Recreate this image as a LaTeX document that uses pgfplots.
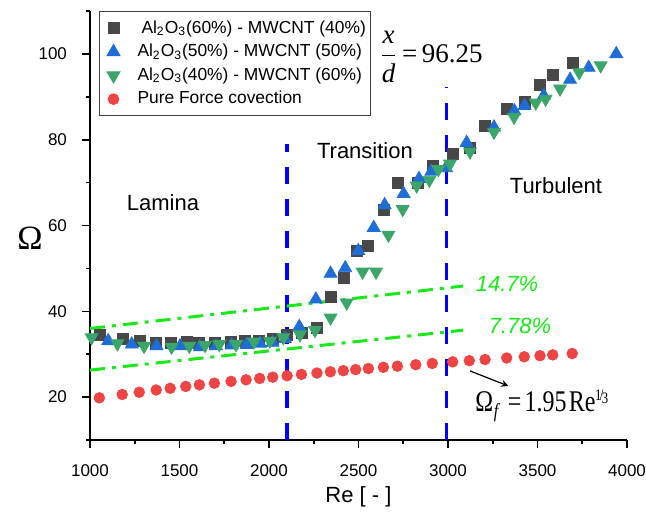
\documentclass[border=0pt]{standalone}
\usepackage{fontspec}
\setmainfont{Liberation Sans}
\newfontfamily\serif{Liberation Serif}
\usepackage{pgfplots}
\pgfplotsset{compat=1.18}
\definecolor{sqc}{RGB}{72,72,72}
\definecolor{upc}{RGB}{31,110,216}
\definecolor{dnc}{RGB}{58,166,106}
\definecolor{rdc}{RGB}{238,68,68}
\definecolor{lgc}{RGB}{25,232,25}
\pgfplotsset{lgm/.style={legend image code/.code={\path[draw=none,fill=none] (-6.5pt,-1pt) rectangle (10pt,1pt); \draw[only marks] plot coordinates {(0pt,0pt)};}}}
\begin{document}
\begin{tikzpicture}
\begin{axis}[
  scale only axis, width=268.5pt, height=214.5pt,
  xmin=1000, xmax=4000, ymin=10, ymax=110,
  axis x line=bottom, axis y line=left,
  axis line style={-, line width=0.8pt},
  xtick={1000,1500,...,4000}, minor xtick={1250,1750,...,3750},
  ytick={20,40,...,100}, minor ytick={10,30,...,110},
  tick align=outside,
  major tick length=4pt, minor tick length=2pt,
  every tick/.style={line width=0.8pt, black},
  /pgf/number format/assume math mode=true,
  /pgf/number format/set thousands separator={},
  ticklabel style={font=\fontsize{8.5}{10}\selectfont},
  xticklabel style={yshift=-5pt},
  yticklabel style={xshift=-4pt},
  xlabel={Re [ - ]},
  xlabel style={font=\fontsize{11}{13}\selectfont, at={(axis description cs:0.5,0)}, anchor=center, yshift=-28.5pt},
  clip=false,
  legend style={at={(axis description cs:0.0168,1)}, anchor=north west, draw=black!75, line width=0.5pt,
    font=\fontsize{8.7}{10}\selectfont, inner xsep=0.5pt, inner ysep=2.5pt, row sep=0pt},
  legend cell align=left,
]
\addplot[only marks, mark=square*, mark size=2.75pt, color=sqc, lgm] table {
1056 34.4
1182 33.6
1279 33.1
1369 32.7
1452 32.7
1540 32.9
1611 32.7
1698 32.7
1786 32.9
1868 33.1
1946 33.1
2020 33.6
2099 34.4
2184 35.0
2266 36.2
2344 43.4
2419 47.9
2490 54.1
2553 55.3
2642 63.7
2720 70.0
2830 70.0
2914 73.9
3026 76.7
3123 78.0
3207 83.3
3328 87.1
3430 88.8
3514 92.8
3587 95.0
3696 97.9
};
\addlegendentry{\hspace{2pt}Al\textsubscript{2}O\textsubscript{3}(60\%) - MWCNT (40\%)}
\addplot[only marks, mark=triangle*, mark size=3.7pt, color=upc, lgm] table {
1102 33.1
1233 32.3
1372 31.9
1503 31.9
1614 31.7
1704 31.9
1791 32.1
1875 32.2
1950 32.5
2020 32.7
2089 33.6
2169 36.4
2262 42.8
2344 48.8
2426 50.1
2499 54.1
2585 59.5
2646 64.8
2752 67.4
2838 70.9
2907 72.6
2989 73.4
3104 79.3
3257 82.9
3371 86.7
3428 87.9
3535 90.3
3682 94.0
3786 96.8
3940 100.0
};
\addlegendentry{Al\textsubscript{2}O\textsubscript{3}(50\%) - MWCNT (50\%)}
\addplot[only marks, mark=triangle*, mark size=3.7pt, color=dnc, mark options={rotate=180}, lgm] table {
1009 33.9
1153 32.5
1302 31.9
1456 31.7
1555 31.9
1642 32.1
1722 32.3
1816 32.3
1916 32.9
2005 33.1
2080 33.9
2173 34.6
2257 35.6
2344 38.5
2434 42.0
2523 49.2
2598 49.2
2667 57.8
2747 63.8
2825 69.3
2896 70.6
2946 73.1
3011 74.4
3123 77.2
3257 81.8
3369 85.3
3490 88.6
3545 89.5
3626 91.9
3733 95.7
3853 97.3
};
\addlegendentry{Al\textsubscript{2}O\textsubscript{3}(40\%) - MWCNT (60\%)}
\addplot[only marks, mark=*, mark size=2.65pt, color=rdc, lgm] table {
1052 19.83
1180 20.61
1275 21.14
1370 21.66
1448 22.06
1535 22.49
1611 22.86
1695 23.25
1788 23.67
1872 24.03
1948 24.35
2021 24.65
2101 24.97
2181 25.29
2268 25.62
2343 25.90
2415 26.16
2484 26.41
2555 26.66
2639 26.95
2717 27.21
2820 27.55
2912 27.85
3026 28.21
3119 28.49
3207 28.76
3328 29.12
3426 29.40
3514 29.65
3585 29.85
3694 30.15
};
\addlegendentry{Pure Force covection}
\addplot[forget plot, color=blue, line width=1.6pt, dash pattern=on 8.5pt off 7.5pt] coordinates {(2100,10) (2100,79)};
\addplot[forget plot, color=blue, line width=1.6pt, dash pattern=on 8.5pt off 7.5pt] coordinates {(2990,10) (2990,92.3)};
\addplot[forget plot, color=lgc, line width=1.5pt, dash pattern=on 7.5pt off 3.5pt on 2pt off 3.5pt] coordinates {(1000,36.0) (3085,45.9)};
\addplot[forget plot, color=lgc, line width=1.5pt, dash pattern=on 7.5pt off 3.5pt on 2pt off 3.5pt] coordinates {(1000,26.3) (3085,35.6)};
\node[font=\fontsize{11}{13}\selectfont] at (axis cs:1408,65.3) {Lamina};
\node[font=\fontsize{11}{13}\selectfont] at (axis cs:2536,77.4) {Transition};
\node[font=\fontsize{11}{13}\selectfont] at (axis cs:3603,69.2) {Turbulent};
\node[text=lgc, font=\fontsize{11}{13}\selectfont\itshape] at (axis cs:3330,46.4) {14.7\%};
\node[text=lgc, font=\fontsize{11}{13}\selectfont\itshape] at (axis cs:3402,36.6) {7.78\%};
\node[font=\serif\fontsize{13.5}{16}\selectfont] at (axis cs:2905,99.3) {$\displaystyle\frac{\textit{x}}{\textit{d}}$\,=\,96.25};
\node[anchor=base west, inner sep=0pt] at (axis cs:3151,16.73) {\scalebox{0.8}[1]{\serif\fontsize{15}{17}\selectfont Ω\kern0.3pt\raisebox{-0.45ex}{\fontsize{10}{11}\selectfont\itshape f}\kern6pt=\kern2pt1.95\kern1.5pt Re\kern-0.3pt\raisebox{0.8ex}{\fontsize{8}{8}\selectfont 1\kern-1pt/\kern-1pt\raisebox{-0.45ex}{3}}}};
\draw[-stealth, line width=0.6pt] (axis cs:3123,26.1) -- (axis cs:3337,22.6);
\node[font=\serif\fontsize{17}{20}\selectfont] at (rel axis cs:0,0.471) [xshift=-30pt] {Ω};
\end{axis}
\pgfresetboundingbox
\path[use as bounding box] (-45pt,-35.5pt) rectangle (278pt,220pt);
\end{tikzpicture}
\end{document}
